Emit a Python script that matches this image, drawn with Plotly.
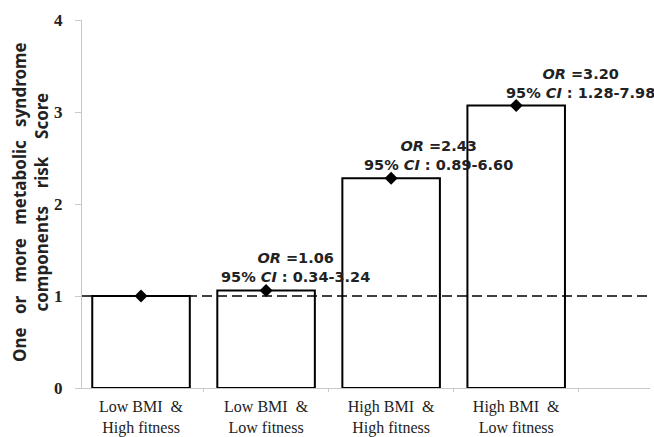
import plotly.graph_objects as go

categories = ["Low BMI  &<br>High fitness", "Low BMI  &<br>Low fitness",
              "High BMI  &<br>High fitness", "High BMI  &<br>Low fitness"]
scores = [1.0, 1.06, 2.28, 3.07]
or_values = [None, "1.06", "2.43", "3.20"]
ci_values = [None, "0.34-3.24", "0.89-6.60", "1.28-7.98"]
reference_line = 1
y_ticks = [0, 1, 2, 3, 4]

label_xshift = [0, 29, 47, 64]

fig = go.Figure()
fig.add_trace(go.Bar(
    x=categories, y=scores,
    marker=dict(color="white", line=dict(color="black", width=2)),
    width=0.78, showlegend=False,
))
fig.add_trace(go.Scatter(
    x=categories, y=scores, mode="markers",
    marker=dict(symbol="diamond", size=10, color="black"),
    showlegend=False, cliponaxis=False,
))

fig.add_shape(type="line", xref="paper", x0=0, x1=1, yref="y",
              y0=reference_line, y1=reference_line,
              line=dict(color="black", width=1.5, dash="10px,5px"), layer="above")

for i, (c, s, o, ci) in enumerate(zip(categories, scores, or_values, ci_values)):
    if o is None:
        continue
    fig.add_annotation(
        x=c, y=s, xref="x", yref="y",
        text=f"<b><i>OR</i> ={o}<br>95% <i>CI</i> : {ci}</b>",
        showarrow=False, xanchor="center", yanchor="bottom",
        xshift=label_xshift[i], yshift=3, align="center",
        font=dict(family="DejaVu Sans", size=14.5, color="#222"),
    )

fig.add_annotation(
    xref="paper", yref="paper", x=0, y=0.5, xshift=-52, yshift=2,
    text="<b>One   or   more   metabolic   syndrome<br>components    risk    Score</b>",
    textangle=-90, showarrow=False, xanchor="center", yanchor="middle",
    font=dict(family="Noto Sans", size=17, color="#222"),
)

fig.update_layout(
    width=654, height=437,
    margin=dict(l=82, r=4, t=20, b=49),
    plot_bgcolor="white", paper_bgcolor="white",
    bargap=0.216,
    xaxis=dict(
        range=[-0.472, 4.07], showgrid=False, showline=True,
        linecolor="#c8c8c8", linewidth=1, automargin=False,
        ticks="outside", tickson="boundaries", ticklen=3, tickcolor="#c8c8c8",
        ticklabelstandoff=4,
        tickfont=dict(family="Liberation Serif", size=16, color="#222"),
    ),
    yaxis=dict(
        range=[0, 4], tickvals=y_ticks, ticktext=[f"<b>{t}</b>" for t in y_ticks],
        showgrid=False, showline=True, linecolor="#c8c8c8", linewidth=1,
        ticks="outside", ticklen=6, tickcolor="#c8c8c8", zeroline=False,
        ticklabelstandoff=9, automargin=False,
        tickfont=dict(family="Liberation Serif", size=17, color="#222"),
    ),
)

fig.write_html("out.html", config={"displayModeBar": False},
               post_script="document.body.style.margin='0';document.body.style.overflow='hidden';")
